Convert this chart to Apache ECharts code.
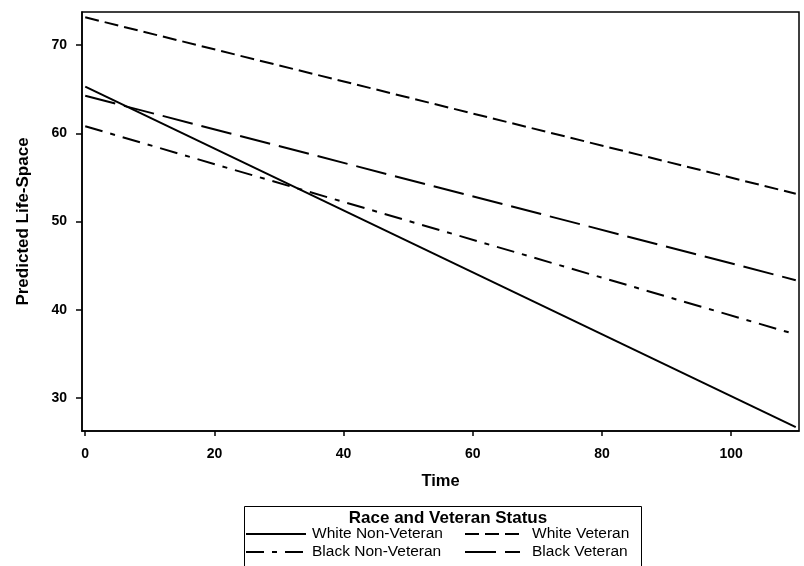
<!DOCTYPE html>
<html>
<head>
<meta charset="utf-8">
<script src="https://cdn.jsdelivr.net/npm/echarts@6/dist/echarts.min.js"></script>
<style>
  html, body { margin: 0; padding: 0; background: #fff; }
  #chart { width: 804px; height: 566px; }
</style>
</head>
<body>
<div id="chart"></div>
<script>
// time points (start and end of the fitted lines)
var timePoints = [0, 110];
var whiteNonVeteran = [65.3, 26.7];
var whiteVeteran = [73.15, 53.15];
var blackNonVeteran = [60.8, 37.2];
var blackVeteran = [64.25, 43.35];

var xTicks = [0, 20, 40, 60, 80, 100];
var yTicks = [30, 40, 50, 60, 70];

var seriesNames = ['White Non-Veteran', 'White Veteran', 'Black Non-Veteran', 'Black Veteran'];
var seriesValues = [whiteNonVeteran, whiteVeteran, blackNonVeteran, blackVeteran];
var dashTypes = ['solid', [14, 6], [18, 8, 5, 8], [31, 9]];

var font = 'Liberation Sans, Arial, sans-serif';

function pairs(vals) {
  return timePoints.map(function (t, i) { return [t, vals[i]]; });
}

// one legend column
function legendColumn(names, left, lineLen, textGap) {
  return {
    data: names,
    left: left, top: 525,
    orient: 'vertical',
    itemWidth: lineLen, itemHeight: 14, itemGap: 0,
    padding: 0,
    itemStyle: { opacity: 0 },
    textStyle: { fontFamily: font, fontSize: 15.5, lineHeight: 18, color: '#000', padding: [0, 0, 0, textGap] }
  };
}

var chart = echarts.init(document.getElementById('chart'), null, { renderer: 'canvas' });

var option = {
  backgroundColor: '#ffffff',
  animation: false,
  textStyle: { fontFamily: font, color: '#000' },
  grid: {
    left: 82, right: 5, top: 12, bottom: 135,
    show: true, borderColor: '#000', borderWidth: 1.5
  },
  title: {
    text: 'Race and Veteran Status',
    left: 443, top: 505, textAlign: 'center',
    textStyle: { fontFamily: font, fontSize: 17, fontWeight: 'bold', color: '#000' }
  },
  legend: [
    legendColumn([seriesNames[0], seriesNames[2]], 245, 60, 1),
    legendColumn([seriesNames[1], seriesNames[3]], 464, 55, 7)
  ],
  graphic: [{
    type: 'rect',
    shape: { x: 244.5, y: 506.5, width: 397, height: 90 },
    style: { fill: 'none', stroke: '#000', lineWidth: 1 },
    silent: true
  }],
  xAxis: {
    type: 'value',
    min: -0.5, max: 110.5,
    name: 'Time', nameLocation: 'middle', nameGap: 42,
    nameTextStyle: { fontFamily: font, fontSize: 16.5, fontWeight: 'bold', color: '#000' },
    splitLine: { show: false },
    axisLine: { onZero: false, lineStyle: { color: '#000', width: 1.5 } },
    axisTick: { customValues: xTicks, length: 5, lineStyle: { color: '#000', width: 1.5 } },
    axisLabel: { customValues: xTicks, margin: 16, fontSize: 14, fontWeight: 'bold', color: '#000', fontFamily: font }
  },
  yAxis: {
    type: 'value',
    min: 26.25, max: 73.75,
    name: 'Predicted Life-Space', nameLocation: 'middle', nameGap: 50,
    nameTextStyle: { fontFamily: font, fontSize: 17, fontWeight: 'bold', color: '#000' },
    splitLine: { show: false },
    axisLine: { onZero: false, lineStyle: { color: '#000', width: 1.5 } },
    axisTick: { customValues: yTicks, length: 6, lineStyle: { color: '#000', width: 1.5 } },
    axisLabel: { customValues: yTicks, margin: 15, fontSize: 14, fontWeight: 'bold', color: '#000', fontFamily: font }
  },
  series: seriesNames.map(function (name, i) {
    return {
      name: name,
      type: 'line',
      data: pairs(seriesValues[i]),
      symbol: 'none',
      lineStyle: { color: '#000', width: 2, type: dashTypes[i] },
      itemStyle: { color: '#000' }
    };
  })
};

chart.setOption(option);
</script>
</body>
</html>
